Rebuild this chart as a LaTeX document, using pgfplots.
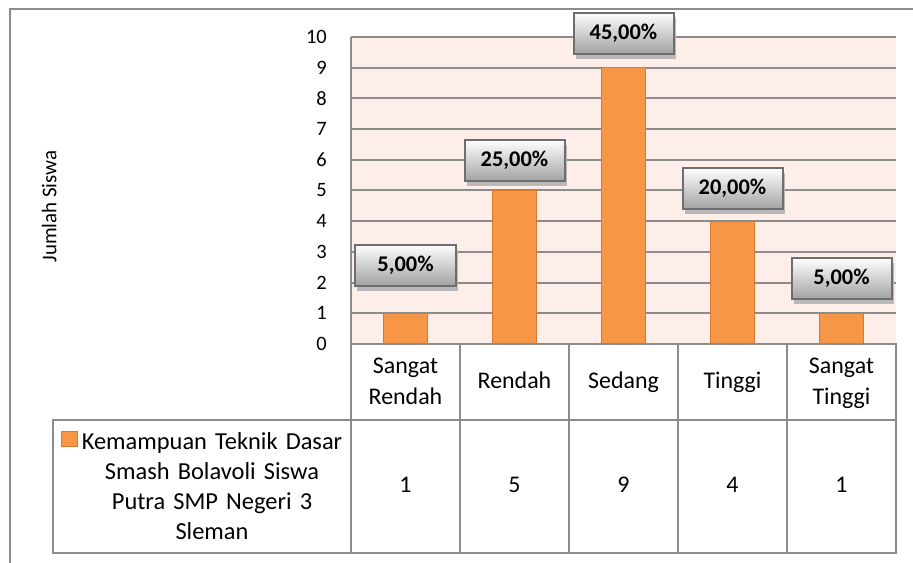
\documentclass[border=0pt]{standalone}
\usepackage{fontspec}
\setmainfont{Carlito}
\usepackage{pgfplots}
\pgfplotsset{compat=1.18}
\usepackage{pgfplotstable}
\usetikzlibrary{shadows}
\definecolor{barfill}{HTML}{F79646}
\definecolor{bardraw}{HTML}{D9782F}
\definecolor{plotbg}{HTML}{FDEEE9}
\definecolor{lineg}{HTML}{8C8C8C}
\definecolor{boxdraw}{HTML}{6E6E6E}
\definecolor{boxbot}{HTML}{A2A2A2}

\pgfplotstableread{
x val
0 1
1 5
2 9
3 4
4 1
}\datatable

\begin{document}
\begin{tikzpicture}
\useasboundingbox (0,0) rectangle (913bp,563bp);
\draw[lineg, line width=2bp] (9bp,554bp) -- (913bp,554bp);
\draw[lineg, line width=2bp] (10bp,555bp) -- (10bp,0bp);
\begin{axis}[
  at={(351bp,219bp)}, anchor=south west,
  width=545bp, height=307bp, scale only axis,
  xmin=-0.5, xmax=4.5, ymin=0, ymax=10,
  clip=false,
  axis background/.style={fill=plotbg},
  axis x line*=bottom, axis y line*=left,
  axis line style={lineg, line width=2bp},
  ymajorgrids, grid style={lineg, line width=2bp},
  ytick={0,1,...,10}, xtick={0,1,2,3,4},
  major tick length=0pt,
  /pgf/number format/assume math mode=true,
  yticklabel style={anchor=east, inner sep=0pt, xshift=-24bp,
     font=\fontsize{20.5}{24}\selectfont},
  xticklabels={{\strut Sangat\\\strut Rendah},{\strut Rendah},{\strut Sedang},{\strut Tinggi},{\strut Sangat\\\strut Tinggi}},
  xticklabel style={align=center, anchor=center, yshift=-38.5bp,
     font=\fontsize{24}{31}\selectfont},
  ylabel={Jumlah Siswa},
  ylabel style={at={(axis description cs:-0.554,0.448)}, anchor=center,
     font=\fontsize{21}{25}\selectfont},
]
\addplot[ybar, bar width=44bp, fill=barfill, draw=bardraw, line width=1bp]
  table[x=x, y=val]{\datatable};
\addplot[draw=none, mark=none, nodes near coords, point meta=explicit symbolic,
  every node near coord/.append style={anchor=center, draw=boxdraw, line width=2bp,
    top color=white, bottom color=boxbot, minimum width=100bp, minimum height=41bp,
    inner sep=0pt, font=\fontsize{22.5}{26}\selectfont\bfseries,
    drop shadow={shadow xshift=2bp, shadow yshift=-5bp, fill=gray!55, opacity=1}}]
  coordinates {(0,2.573)[5,00\%] (1,5.977)[25,00\%] (2,10.13)[45,00\%] (3,5.065)[20,00\%] (4,2.134)[5,00\%]};
\addplot[draw=none, mark=none, nodes near coords, point meta=explicit,
  every node near coord/.append style={anchor=center, inner sep=0pt,
    font=\fontsize{24}{30}\selectfont}]
  table[x=x, y expr=-4.60, meta=val]{\datatable};
\end{axis}
\begin{scope}[lineg, line width=2bp]
\draw (351bp,526bp) -- (351bp,9bp);
\draw (351bp,219bp) -- (897bp,219bp);
\draw (52bp,143bp) -- (897bp,143bp);
\draw (52bp,10bp) -- (897bp,10bp);
\draw (53bp,144bp) -- (53bp,9bp);
\foreach \xx in {460,569,678,787,896} \draw (\xx bp,220bp) -- (\xx bp,9bp);
\end{scope}
\fill[barfill, draw=bardraw, line width=1bp] (61bp,116bp) rectangle (77bp,131bp);
\node[align=center, text width=280bp, inner sep=0pt, font=\fontsize{24.5}{30}\selectfont]
  at (212bp,77bp) {Kemampuan Teknik Dasar\\Smash Bolavoli Siswa\\Putra SMP Negeri 3\\Sleman};
\end{tikzpicture}
\end{document}
